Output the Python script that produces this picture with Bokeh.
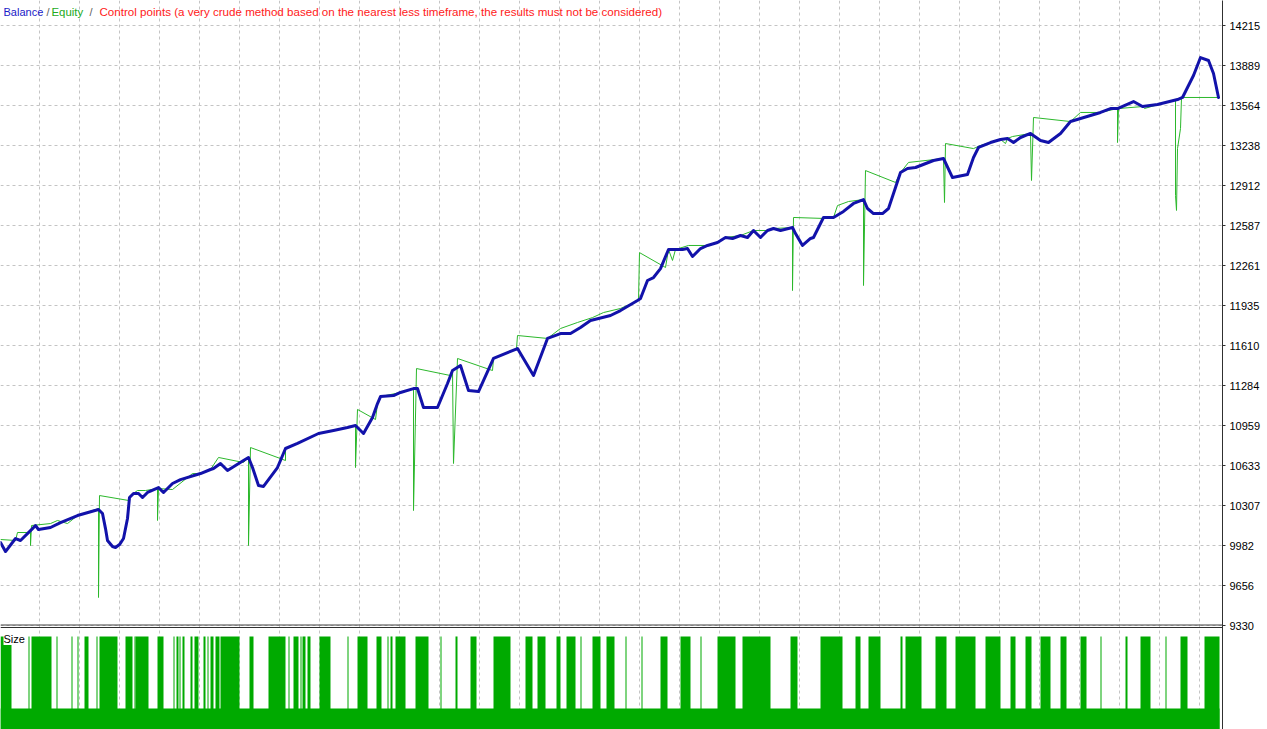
from bokeh.plotting import figure
from bokeh.models import Range1d, FixedTicker, Label, Span
from bokeh.embed import file_html
from bokeh.resources import INLINE

# ---------------- data ----------------
# Balance curve (trade index -> account balance)
bal_x = [0, 5, 15, 20, 32, 35, 38, 50, 60, 77, 98, 102, 105, 107, 112, 115, 119, 123, 127, 129,
         133, 138, 142, 147, 158, 163, 172, 180, 200, 210, 213, 220, 227, 243, 248, 252, 258, 263,
         277, 285, 297, 318, 333, 347, 355, 363, 372, 377, 380, 393, 400, 413, 417, 423, 437, 447,
         452, 460, 468, 478, 493, 517, 533, 547, 560, 570, 580, 590, 610, 620, 637, 640, 647, 653,
         660, 668, 682, 687, 692, 700, 707, 717, 725, 732, 740, 747, 753, 760, 767, 773, 780, 792,
         795, 802, 810, 813, 823, 833, 843, 853, 863, 867, 873, 882, 888, 895, 900, 907, 915, 933,
         943, 952, 967, 973, 978, 990, 1000, 1007, 1013, 1020, 1030, 1040, 1048, 1060, 1070, 1080,
         1100, 1110, 1117, 1133, 1142, 1157, 1177, 1182, 1193, 1200, 1208, 1213, 1218]
bal_y = [10007, 9933, 10039, 10023, 10120, 10145, 10112, 10129, 10169, 10226, 10275, 10243, 10120,
         10023, 9974, 9966, 9990, 10039, 10202, 10373,
         10406, 10406, 10373, 10414, 10454, 10414, 10487, 10519, 10568, 10601, 10609, 10650, 10593,
         10674, 10699, 10617, 10471, 10463,
         10617, 10772, 10813, 10894, 10918, 10943, 10959, 10894, 11024, 11138, 11195, 11203, 11228,
         11260, 11260, 11106, 11106, 11301,
         11407, 11448, 11244, 11236, 11505, 11586, 11366, 11668, 11708, 11708, 11757, 11814, 11855,
         11895, 11977, 11993, 12140, 12164,
         12237, 12392, 12392, 12400, 12335, 12400, 12425, 12449, 12490, 12482, 12506, 12490, 12547,
         12490, 12547, 12563, 12547, 12571,
         12522, 12425, 12482, 12490, 12653, 12653, 12702, 12767, 12799, 12726, 12685, 12685, 12726,
         12897, 13019, 13052, 13060, 13117,
         13133, 12978, 13003, 13141, 13223, 13263, 13288, 13296, 13263, 13304, 13337, 13280, 13263,
         13337, 13434, 13459,
         13508, 13540, 13540, 13597, 13556, 13573, 13613, 13630, 13809, 13955, 13931, 13825, 13630]

# Equity curve (trade index -> equity), with floating drawdown spikes
eq_x = [0, 15, 17, 30, 30, 31, 50, 57, 67, 77, 98, 98, 99, 128, 130, 137, 145, 157, 157, 158, 172,
        192, 200, 210, 218, 243, 248, 248, 250, 280, 285, 285, 297, 318, 333, 347, 355, 355, 357,
        375, 377, 380, 400, 413, 413, 416, 450, 452, 453, 457, 492, 493, 516, 517, 547, 560, 577,
        592, 603, 620, 638, 639, 665, 668, 672, 675, 688, 707, 717, 725, 740, 753, 767, 773, 792,
        792, 793, 823, 833, 837, 848, 863, 863, 865, 895, 900, 908, 943, 944, 945, 973, 980, 1000,
        1005, 1007, 1012, 1030, 1031, 1033, 1070, 1080, 1100, 1117, 1117, 1118, 1142, 1144, 1175,
        1175, 1176, 1177, 1180, 1181, 1218]
eq_y = [10031, 10023, 10088, 10088, 9982, 10145, 10161, 10186, 10161, 10226, 10283, 9559, 10389,
        10349, 10389, 10430, 10430, 10446, 10186, 10446, 10438,
        10568, 10568, 10601, 10699, 10658, 10699, 9982, 10780, 10690, 10674, 10772, 10813, 10894,
        10918, 10943, 10959, 10617, 11090,
        11008, 11138, 11195, 11228, 11260, 10267, 11423, 11366, 11407, 10650, 11505, 11407, 11505,
        11586, 11692, 11668, 11749, 11798,
        11838, 11879, 11912, 11977, 12367, 12246, 12392, 12303, 12392, 12425, 12425, 12449, 12490,
        12506, 12547, 12547, 12563, 12571,
        12058, 12653, 12645, 12653, 12750, 12783, 12799, 12099, 13035, 12938, 13019, 13101, 13133,
        12775, 13255, 13214, 13239, 13288,
        13255, 13296, 13312, 13337, 12954, 13467, 13434, 13508, 13508, 13540, 13263, 13540, 13556,
        13540, 13613,
        12832, 12710, 13214, 13377, 13630, 13630]

# Right-axis tick labels
y_ticks = [9330, 9656, 9982, 10307, 10633, 10959, 11284, 11610, 11935, 12261, 12587, 12912,
           13238, 13564, 13889, 14215]

# Position size: base lot everywhere, raised lot on these trade runs
n_trades = 1219
lot_low = 0.1
lot_high = 0.2
high_start = [0, 28, 31, 56, 71, 77, 84, 96, 99, 125, 134, 135, 157, 173, 176, 179, 182, 190, 194,
              203, 207, 210, 215, 220, 249, 268, 288, 293, 300, 302, 307, 319, 347, 357, 376, 387,
              390, 395, 415, 440, 455, 470, 493, 525, 537, 556, 566, 580, 592, 606, 625, 641, 660,
              680, 700, 717, 742, 790, 820, 855, 868, 900, 905, 935, 955, 985, 1010, 1025, 1040,
              1060, 1080, 1100, 1125, 1140, 1165, 1180, 1204]
high_end = [11, 29, 51, 57, 72, 78, 88, 97, 117, 132, 135, 148, 163, 174, 178, 180, 184, 192, 198,
            205, 208, 213, 219, 239, 253, 285, 289, 298, 301, 305, 310, 330, 348, 367, 381, 388,
            392, 405, 428, 441, 457, 476, 510, 532, 545, 560, 575, 581, 600, 614, 626, 642, 667,
            690, 701, 735, 770, 797, 842, 860, 880, 902, 921, 946, 975, 1000, 1015, 1031, 1050,
            1066, 1086, 1101, 1127, 1150, 1166, 1187, 1219]

# ---------------- layout helpers ----------------
PX = 8.1417          # balance units per chart pixel
TOP = 14419.5        # balance value at the top edge of the chart


def ypix(py):
    return TOP - PX * py


W, H = 1267, 729
p = figure(width=W, height=H, output_backend="svg", toolbar_location=None,
           x_range=Range1d(0, 1222), y_range=Range1d(ypix(729), TOP),
           y_axis_location="right", x_axis_location=None,
           min_border_left=0, min_border_top=0, min_border_bottom=0, min_border_right=45)
p.outline_line_color = None
p.background_fill_color = "white"
p.border_fill_color = "white"

# grid
p.ygrid.ticker = FixedTicker(ticks=y_ticks)
p.xgrid.ticker = FixedTicker(ticks=list(range(39, 1222, 40)))
for g in (p.xgrid, p.ygrid):
    g.grid_line_color = "#c4c4c4"
    g.grid_line_dash = "3 3"
    g.grid_line_width = 1

# axis
ax = p.yaxis[0]
ax.ticker = FixedTicker(ticks=y_ticks)
ax.major_label_text_font = "Liberation Sans"
ax.major_label_text_font_size = "11px"
ax.major_label_text_color = "#000000"
ax.major_label_standoff = 4
ax.major_tick_out = 3
ax.major_tick_in = 0
ax.minor_tick_out = 0
ax.minor_tick_in = 0
ax.axis_line_color = "#303030"
ax.major_tick_line_color = "#303030"

# size sub-panel (extra range)
p.extra_y_ranges = {"size": Range1d(0.0708, 0.0708 + 729 / 720)}
p.quad(left=[0], right=[n_trades], bottom=[0], top=[lot_low], y_range_name="size",
       fill_color="#00aa00", line_color=None)
p.quad(left=high_start, right=high_end, bottom=[0] * len(high_start),
       top=[lot_high] * len(high_start), y_range_name="size",
       fill_color="#00aa00", line_color=None)

# separator between panels
p.add_layout(Span(location=ypix(624.5), dimension="width", line_color="#404040", line_width=1))
p.add_layout(Span(location=ypix(627), dimension="width", line_color="#303030", line_width=1))

# curves
p.line(eq_x, eq_y, line_color="#2cb82c", line_width=1)
p.line(bal_x, bal_y, line_color="#1212aa", line_width=3, line_join="round", line_cap="round")

# legend-like title texts
parts = [(3, "Balance", "#1a1ac8", "11px"), (46, "/", "#606060", "11px"),
         (51, "Equity", "#22aa22", "11.4px"), (89, "/", "#606060", "11px"),
         (99, "Control points (a very crude method based on the nearest less "
              "timeframe, the results must not be considered)", "#ff2020", "11.6px")]
for xx, txt, col, fs in parts:
    p.add_layout(Label(x=xx, y=ypix(11), text=txt, text_color=col, text_font="Liberation Sans",
                       text_font_size=fs, text_baseline="middle"))

p.add_layout(Label(x=3, y=ypix(638.5), text="Size", text_color="#000000",
                   text_font="Liberation Sans", text_font_size="11px", text_baseline="middle",
                   background_fill_color="white"))

open("out.html", "w").write(file_html(p, INLINE))
